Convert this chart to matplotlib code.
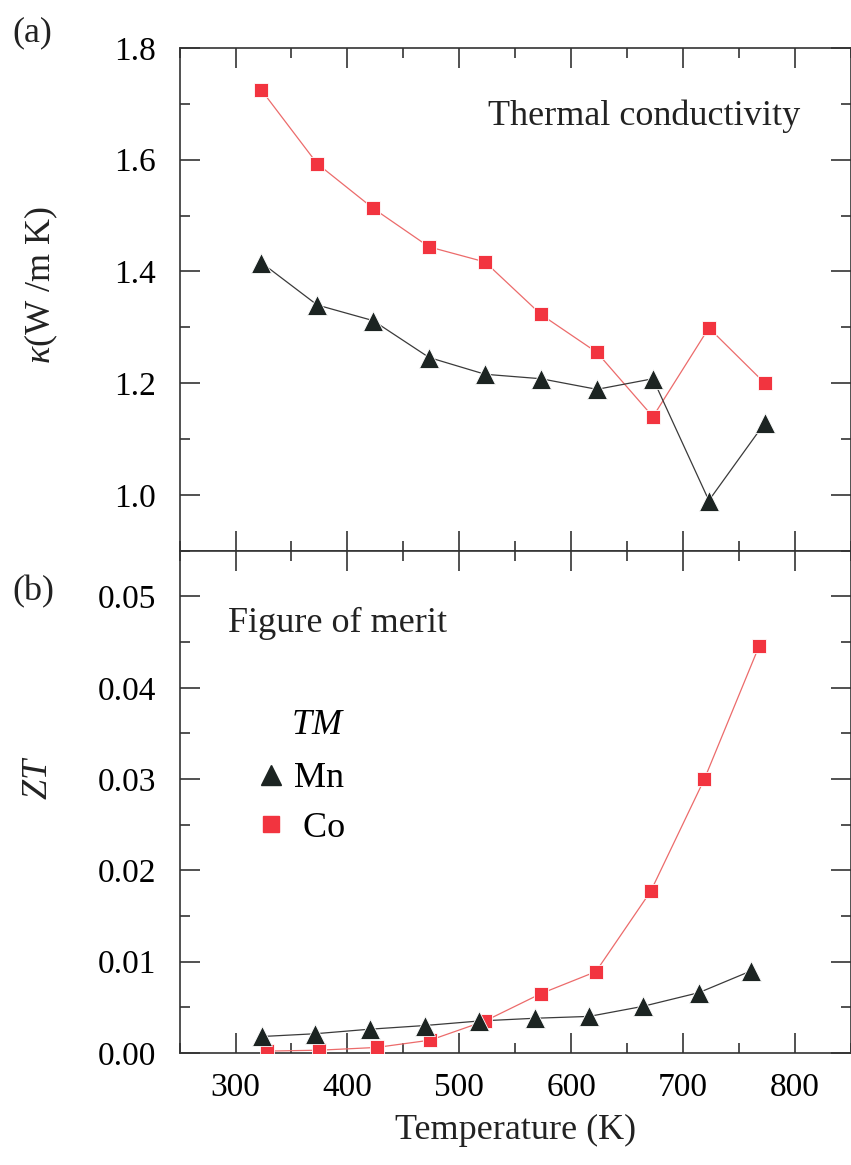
import matplotlib
matplotlib.use('Agg')
import matplotlib.pyplot as plt
from matplotlib.lines import Line2D
from matplotlib.ticker import MultipleLocator

plt.rcParams['font.family'] = ['Liberation Serif', 'DejaVu Serif']
plt.rcParams['mathtext.fontset'] = 'custom'
plt.rcParams['mathtext.rm'] = 'Liberation Serif'
plt.rcParams['mathtext.it'] = 'Liberation Serif:italic'

# thermal conductivity (W/m K)
T_kappa = [323, 373, 423, 473, 523, 573, 623, 673, 723, 773]
kappa_co = [1.725, 1.593, 1.513, 1.444, 1.417, 1.323, 1.255, 1.140, 1.299, 1.200]
kappa_mn = [1.416, 1.340, 1.312, 1.246, 1.216, 1.208, 1.189, 1.208, 0.990, 1.129]

# figure of merit
T_zt_mn = [324, 371, 420, 469, 518, 568, 616, 664, 714, 761]
zt_mn = [0.0018, 0.0021, 0.0026, 0.0030, 0.0035, 0.0038, 0.0040, 0.0051, 0.0066, 0.0090]
T_zt_co = [328, 375, 426, 474, 523, 573, 622, 671, 719, 768]
zt_co = [0.0002, 0.0003, 0.0006, 0.0014, 0.0035, 0.0065, 0.0089, 0.0177, 0.0300, 0.0446]

red = '#f2343f'
red_line = '#ec6b6b'
blk = '#1c2422'
blk_line = '#3a3a3a'

fig = plt.figure(figsize=(8.51, 11.65), dpi=100)
ax1 = fig.add_axes([0.211, 0.5272, 0.789, 0.4316])
ax2 = fig.add_axes([0.211, 0.0962, 0.789, 0.4310], sharex=ax1)

for ax in (ax1, ax2):
    for s in ax.spines.values():
        s.set_color('#333333')
        s.set_linewidth(1.2)
    ax.tick_params(which='both', direction='in', top=True, right=True,
                   color='#333333', width=1.2, labelsize=24)
    ax.tick_params(which='major', length=14.5)
    ax.tick_params(which='minor', length=7.5)
    ax.tick_params(axis='y', pad=17)
    ax.tick_params(axis='x', pad=14)

# (a) thermal conductivity
ax1.plot(T_kappa, kappa_co, '-', color=red_line, lw=0.9, zorder=2)
ax1.plot(T_kappa, kappa_co, 's', color=red, ms=10.6, mec='white', mew=0.6, zorder=3)
ax1.plot(T_kappa, kappa_mn, '-', color=blk_line, lw=0.9, zorder=2)
ax1.plot(T_kappa, kappa_mn, '^', color=blk, ms=14, mec='white', mew=0.6, zorder=3)
ax1.set_xlim(250, 850)
ax1.set_ylim(0.9, 1.8)
ax1.yaxis.set_major_locator(MultipleLocator(0.2))
ax1.yaxis.set_minor_locator(MultipleLocator(0.1))
ax1.yaxis.set_major_formatter(matplotlib.ticker.FormatStrFormatter('%.1f'))
ax1.xaxis.set_major_locator(MultipleLocator(100))
ax1.xaxis.set_minor_locator(MultipleLocator(50))
ax1.tick_params(axis='x', labelbottom=False)
ax1.text(0.46, 0.864, 'Thermal conductivity', transform=ax1.transAxes,
         fontsize=26, va='center', ha='left', color='#222222')

# (b) figure of merit
ax2.plot(T_zt_co, zt_co, '-', color=red_line, lw=0.9, zorder=2)
ax2.plot(T_zt_co, zt_co, 's', color=red, ms=10.6, mec='white', mew=0.6, zorder=3)
ax2.plot(T_zt_mn, zt_mn, '-', color=blk_line, lw=0.9, zorder=2)
ax2.plot(T_zt_mn, zt_mn, '^', color=blk, ms=14, mec='white', mew=0.6, zorder=3)
ax2.set_ylim(0, 0.055)
ax2.yaxis.set_major_locator(MultipleLocator(0.01))
ax2.yaxis.set_minor_locator(MultipleLocator(0.005))
ax2.yaxis.set_major_formatter(matplotlib.ticker.FormatStrFormatter('%.2f'))
ax2.set_xlabel('Temperature (K)', fontsize=26, labelpad=8, color='#222222')
ax2.text(0.072, 0.855, 'Figure of merit', transform=ax2.transAxes,
         fontsize=26, va='center', ha='left', color='#222222')

handles = [Line2D([], [], marker='^', ls='none', color=blk, ms=14),
           Line2D([], [], marker='s', ls='none', color=red, ms=12)]
leg = ax2.legend(handles, ['Mn', ' Co'], title='$TM$', loc='upper left',
                 bbox_to_anchor=(0.082, 0.72), frameon=False, fontsize=26,
                 title_fontsize=26, handletextpad=0.15, labelspacing=0.45,
                 borderpad=0, handlelength=1.0)
leg._legend_box.sep = 14
leg._legend_box.align = 'right'

fig.text(0.049, 0.755, r'$\kappa$(W /m K)', rotation=90, fontsize=26,
         ha='center', va='center', color='#222222')
fig.text(0.045, 0.332, '$ZT$', rotation=90, fontsize=26,
         ha='center', va='center', color='#222222')
fig.text(0.015, 0.972, '(a)', fontsize=26, ha='left', va='center', color='#222222')
fig.text(0.015, 0.492, '(b)', fontsize=26, ha='left', va='center', color='#222222')

fig.savefig('out.png', dpi=100)
